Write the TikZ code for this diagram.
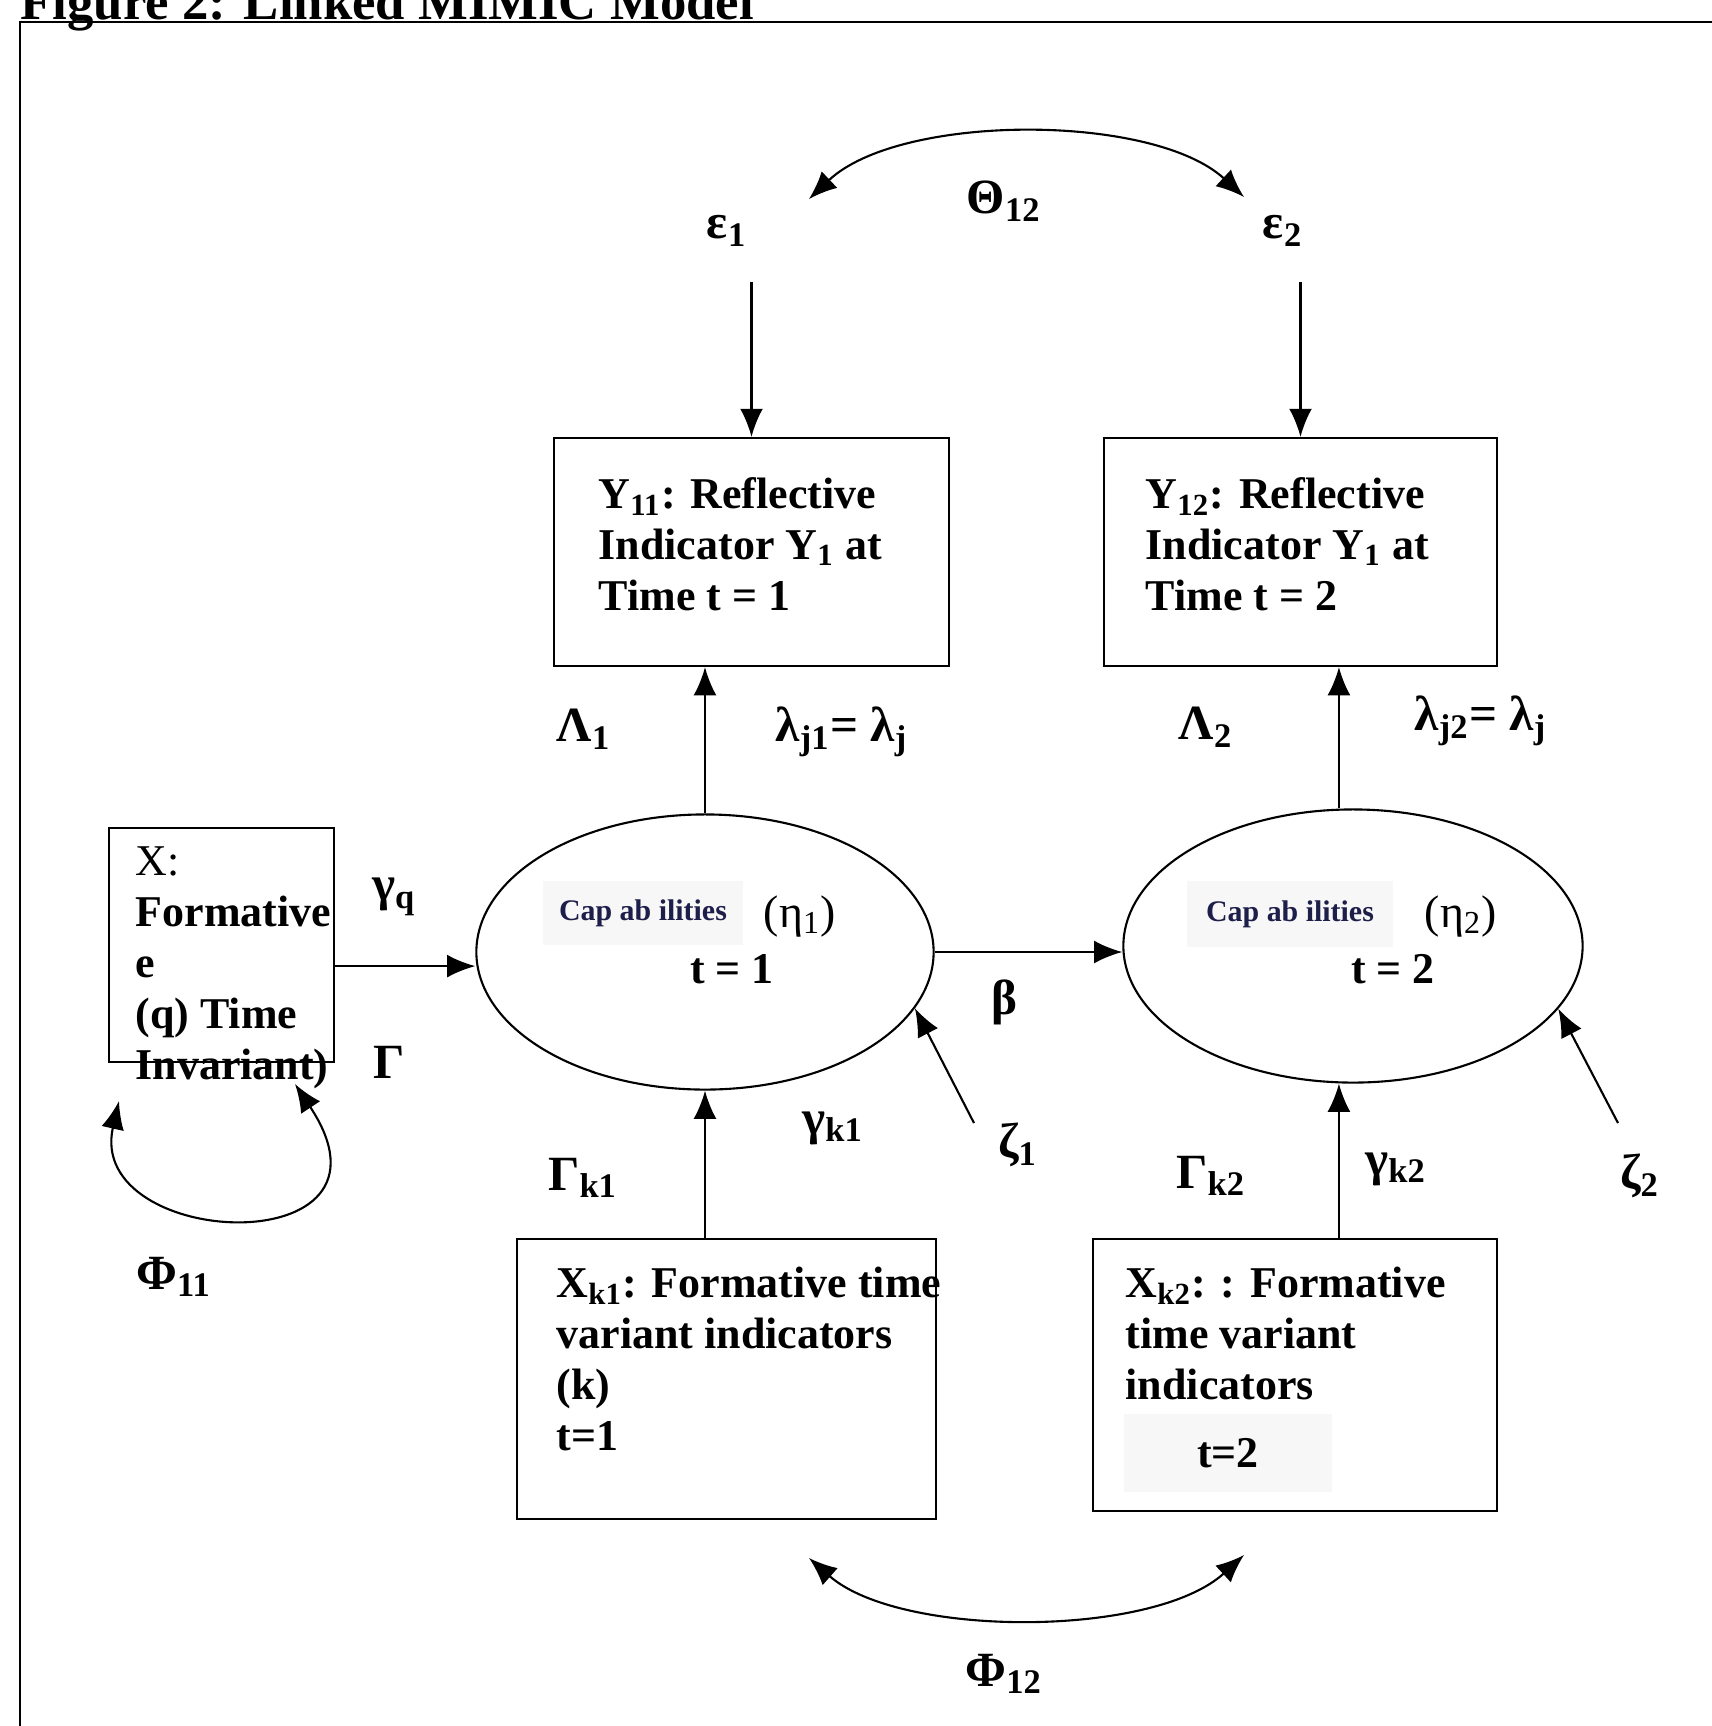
\documentclass[tikz,border=0pt]{standalone}
\usepackage{fontspec}
\setmainfont{Liberation Serif}
\usetikzlibrary{arrows.meta,shapes.geometric}
\definecolor{capblue}{RGB}{30,30,75}
\begin{document}
\begin{tikzpicture}[x=0.01cm, y=-0.01cm,
	box/.style={draw, line width=0.6pt, inner sep=0pt},
	lv/.style={draw, ellipse, line width=0.6pt, inner sep=0pt},
	txt/.style={anchor=north west, align=left, inner sep=0pt, font=\fontsize{12.5}{14.5}\selectfont\bfseries},
	lbl/.style={inner sep=1pt, font=\fontsize{14}{16}\selectfont\bfseries},
	capbg/.style={fill=black!3, inner sep=0pt, minimum width=2cm, minimum height=0.64cm, text=capblue, font=\fontsize{8.5}{10}\selectfont\bfseries},
	arr/.style={line width=0.6pt, -{Latex[length=8pt,width=6.5pt]}},
	dbl/.style={line width=0.6pt, {Latex[length=8pt,width=6.5pt]}-{Latex[length=8pt,width=6.5pt]}}]
	\useasboundingbox (0,0) rectangle (1712,1726);
	\node[anchor=base west, inner sep=0pt, font=\fontsize{15}{18}\selectfont\bfseries] (title) at (20,19) {Figure 2: Linked MIMIC Model};
	\draw[line width=0.8pt] (20,1740) -- (20,22) -- (1720,22);

	% boxes and latent variables
	\node[box, minimum width=2.25cm, minimum height=2.34cm] (xq) at (221.5,945) {};
	\node[box, minimum width=3.95cm, minimum height=2.28cm] (y11) at (751.5,552) {};
	\node[box, minimum width=3.93cm, minimum height=2.28cm] (y12) at (1300.5,552) {};
	\node[box, minimum width=4.19cm, minimum height=2.80cm] (xk1) at (726.5,1379) {};
	\node[box, minimum width=4.04cm, minimum height=2.72cm] (xk2) at (1295,1375) {};
	\node[lv, minimum width=4.57cm, minimum height=2.75cm] (eta1) at (705,952) {};
	\node[lv, minimum width=4.59cm, minimum height=2.73cm] (eta2) at (1353,946) {};

	\node[txt] (y11txt) at (598,477) {Y\textsubscript{11}: Reflective\\Indicator Y\textsubscript{1} at\\Time t = 1};
	\node[txt] (y12txt) at (1145,477) {Y\textsubscript{12}: Reflective\\Indicator Y\textsubscript{1} at\\Time t = 2};
	\node[txt] (xqtxt) at (135,846) {{\mdseries X:}\\Formative\\e\\(q) Time\\Invariant)};
	\node[txt] (xk1txt) at (556,1266) {X\textsubscript{k1}: Formative time\\variant indicators\\(k)\\t=1};
	\node[txt] (xk2txt) at (1125,1266) {X\textsubscript{k2}: : Formative\\time variant\\indicators};
	\node[fill=black!3, inner sep=0pt, minimum width=2.07cm, minimum height=0.77cm, font=\fontsize{12.5}{14.5}\selectfont\bfseries] (t2box) at (1228,1453) {t=2};

	\node[capbg] (cap1) at (643,913) {Cap ab ilities};
	\node[font=\fontsize{13}{15}\selectfont] (eta1lbl) at (800,916) {(η\textsubscript{1})};
	\node[font=\fontsize{12.5}{15}\selectfont\bfseries] (t1) at (732,969) {t = 1};
	\node[capbg, minimum width=2.06cm, minimum height=0.66cm] (cap2) at (1290,914) {Cap ab ilities};
	\node[font=\fontsize{13}{15}\selectfont] (eta2lbl) at (1461,916) {(η\textsubscript{2})};
	\node[font=\fontsize{12.5}{15}\selectfont\bfseries] (t2) at (1393,969) {t = 2};

	% parameters
	\node[lbl] (eps1) at (727,231) {ε\textsubscript{1}};
	\node[lbl] (eps2) at (1283,231) {ε\textsubscript{2}};
	\node[lbl] (th12) at (1004,201) {Θ\textsubscript{12}};
	\node[lbl] (lam1) at (584,729) {Λ\textsubscript{1}};
	\node[lbl] (lamj1) at (842,732) {λ\textsubscript{j1}= λ\textsubscript{j}};
	\node[lbl] (lam2) at (1206,727) {Λ\textsubscript{2}};
	\node[lbl] (lamj2) at (1481,721) {λ\textsubscript{j2}= λ\textsubscript{j}};
	\node[lbl] (gq) at (394,897) {γ\textsubscript{q}};
	\node[lbl] (gam) at (389,1062) {Γ};
	\node[lbl] (phi11) at (174,1277) {Φ\textsubscript{11}};
	\node[lbl] (beta) at (1004,1002) {β};
	\node[lbl] (z1) at (1018,1145) {ζ\textsubscript{1}};
	\node[lbl] (z2) at (1640,1176) {ζ\textsubscript{2}};
	\node[lbl] (gk1) at (833,1128) {γ\textsubscript{k1}};
	\node[lbl] (gamk1) at (583,1178) {Γ\textsubscript{k1}};
	\node[lbl] (gamk2) at (1211,1176) {Γ\textsubscript{k2}};
	\node[lbl] (gk2) at (1396,1169) {γ\textsubscript{k2}};
	\node[lbl] (phi12) at (1004,1674) {Φ\textsubscript{12}};

	% paths
	\coordinate (xqout) at ([yshift=-6pt]xq.east);
	\coordinate (e2top) at ([xshift=-4pt]eta2.north);
	\coordinate (e2bot) at ([xshift=-4pt]eta2.south);
	\coordinate (z1tail) at (974,1123);
	\coordinate (z2tail) at (1618,1123);
	\draw[arr] ([yshift=-9pt]eps1.south -| y11.north) -- (y11.north);
	\draw[arr] ([yshift=-9pt]eps2.south -| y12.north) -- (y12.north);
	\draw[arr] (eta1.north) -- (eta1.north |- y11.south);
	\draw[arr] (e2top) -- (e2top |- y12.south);
	\draw[arr] (xk1.north -| eta1.south) -- (eta1.south);
	\draw[arr] (e2bot |- xk2.north) -- (e2bot);
	\draw[arr] (xqout) -- (xqout -| eta1.west);
	\draw[arr] (eta1.east) -- (eta1.east -| eta2.west);
	\draw[arr] (z1tail) -- (eta1.-15);
	\draw[arr] (z2tail) -- (eta2.-17);

	\coordinate (th1) at (809,199);
	\coordinate (th2) at (1244,197);
	\coordinate (ph1) at (809,1558);
	\coordinate (ph2) at (1244,1555);
	\coordinate (lp1) at (119,1101);
	\coordinate (lp2) at (295,1084);
	\draw[dbl] (th1) .. controls (900,113) and (1153,113) .. (th2);
	\draw[dbl] (ph1) .. controls (900,1638) and (1153,1638) .. (ph2);
	\draw[dbl] (lp1) .. controls (85,1250) and (415,1265) .. (lp2);
\end{tikzpicture}
\end{document}
